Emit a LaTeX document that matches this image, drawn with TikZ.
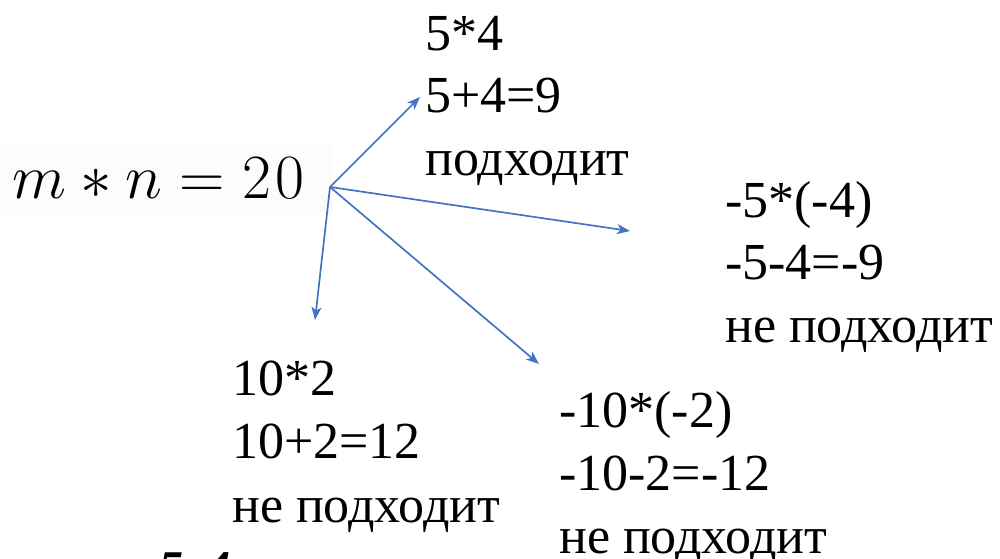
\documentclass[tikz,border=0pt]{standalone}
\usepackage{fix-cm}
\usepackage{fontspec}
\setmainfont{Liberation Serif}
\usetikzlibrary{arrows.meta}
\definecolor{arrblue}{RGB}{68,114,196}
\tikzset{
  txt/.style={anchor=base west, inner sep=0pt, font=\fontsize{52}{62}\selectfont},
  conn/.style={draw=arrblue, line width=1.7pt, -{Stealth[length=13pt,width=10pt,inset=3.5pt]}}
}
\begin{document}
\begin{tikzpicture}[x=1pt,y=-1pt]
\useasboundingbox (0,0) rectangle (1000,558);
\clip (0,0) rectangle (1000,558);
% pasted equation image background
\fill[black!1] (0,143) rectangle (332,216);
\node[anchor=base west, inner sep=0pt, font=\fontsize{63}{72}\selectfont] (eq) at (12,198) {$m \mathbin{*} n \mathrel{=} 2\mkern1mu0$};
\coordinate (src) at (330,187);
% block 1
\node[txt] (a1) at (425,50) {5*4};
\node[txt] (a2) at (425,112) {5+4=9};
\node[txt] (a3) at (425,175) {подходит};
% block 2
\node[txt] (b1) at (725,217) {-5*(-4)};
\node[txt] (b2) at (725,279) {-5-4=-9};
\node[txt] (b3) at (725,342) {не подходит};
% block 3
\node[txt] (c1) at (232,395) {10*2};
\node[txt] (c2) at (232,458) {10+2=12};
\node[txt] (c3) at (232,522) {не подходит};
% block 4
\node[txt] (d1) at (559,427) {-10*(-2)};
\node[txt] (d2) at (559,490) {-10-2=-12};
\node[txt] (d3) at (559,553) {не подходит};
% cut-off text at bottom
\node[anchor=base west, inner sep=0pt, font=\fontsize{50}{60}\selectfont\bfseries\itshape] (e1) at (158,585) {5\hspace{22pt}4};
% arrow ends
\coordinate (t1) at (420,97);
\coordinate (t2) at (630,231);
\coordinate (t3) at (315,320);
\coordinate (t4) at (539,364);
\draw[conn] (src) -- (t1);
\draw[conn] (src) -- (t2);
\draw[conn] (src) -- (t3);
\draw[conn] (src) -- (t4);
\end{tikzpicture}
\end{document}
